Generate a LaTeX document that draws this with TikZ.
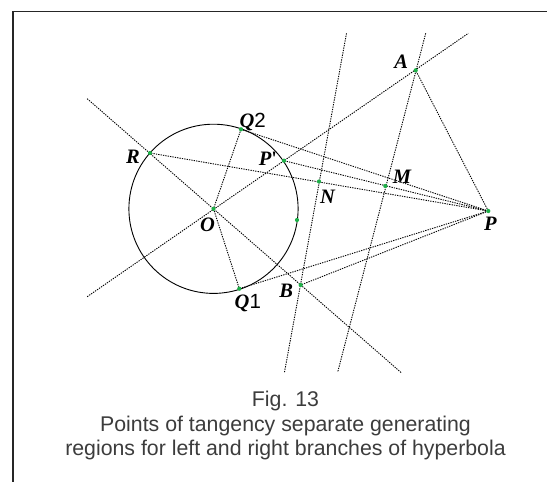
\documentclass[tikz,border=0pt]{standalone}
\usepackage{fontspec}
\usepackage{tikz}
\usetikzlibrary{positioning,calc}
\setmainfont{Liberation Sans}
\newfontfamily\lblfont{Liberation Serif}
\definecolor{ptgreen}{RGB}{30,176,72}
\definecolor{capgray}{RGB}{60,60,60}

\begin{document}
\begin{tikzpicture}[x=1pt,y=-1pt,
  aux/.style={dash pattern=on 1.3pt off 1.1pt,line width=0.9pt},
  gdot/.style={circle,fill=ptgreen,inner sep=0pt,minimum size=4.2pt},
  lbl/.style={inner sep=0pt,text height=13.5pt,text depth=0pt,font=\lblfont\fontsize{20.5}{22}\selectfont\bfseries\itshape},
  capt/.style={align=center,text=capgray,font=\fontsize{21.3}{24.3}\selectfont}
]
\useasboundingbox (0,0) rectangle (547,482);
% frame
\draw[line width=1.1pt,black!85] (13,482) -- (13,11.3) -- (547,11.3);
% points
\coordinate (O) at (213.5,208.8);
\coordinate (Q2) at (241,129.3);
\coordinate (Q1) at (239.3,288.7);
\coordinate (R) at (150,153);
\coordinate (Pp) at (284,160.7);
\coordinate (C) at (297,220);
\coordinate (P) at (488.3,211);
\coordinate (N) at (319,181.5);
\coordinate (M) at (385.3,186);
\coordinate (A) at (415.7,70.3);
\coordinate (B) at (300.7,285);
% free ends of the long lines
\coordinate (ro1) at (87.2,98.7);
\coordinate (ro2) at (401.3,372.7);
\coordinate (oa1) at (87.2,296.7);
\coordinate (oa2) at (468.3,33.3);
\coordinate (nb1) at (346.5,33.3);
\coordinate (nb2) at (284.4,372.7);
\coordinate (ma1) at (425.7,33.3);
\coordinate (ma2) at (337.8,371.7);
% circle
\draw[line width=0.9pt] (O) circle (84.6);
% construction lines
\draw[aux] (ro1) -- (ro2);
\draw[aux] (oa1) -- (oa2);
\draw[aux] (nb1) -- (nb2);
\draw[aux] (ma1) -- (ma2);
\draw[aux] (Q2) -- (O) -- (Q1);
\draw[aux] (P) -- (Q2);
\draw[aux] (P) -- (Pp);
\draw[aux] (P) -- (R);
\draw[aux] (P) -- (Q1);
\draw[aux] (P) -- (B);
\draw[aux] (P) -- (A);
% dots
\foreach \p in {O,Q2,Q1,R,Pp,C,P,N,M,A,B}
  \node[gdot] at (\p) {};
% labels
\node[lbl,above right=2pt and -1.7pt of Q2] (lQ2) {Q\textup{\fontspec{Liberation Sans}\mdseries 2}};
\node[lbl,below right=6.3pt and -4.8pt of Q1] (lQ1) {Q\textup{\fontspec{Liberation Sans}\mdseries 1}};
\node[lbl,left=10pt of R,yshift=-3.3pt] (lR) {R};
\node[lbl,left=6.7pt of Pp,yshift=1.5pt] (lPp) {P\textup{'}};
\node[lbl,below=9pt of O,xshift=-6pt] (lO) {O};
\node[lbl,below right=8.5pt and 1pt of N] (lN) {N};
\node[lbl,above right=2pt and 7.4pt of M] (lM) {M};
\node[lbl,above left=2pt and 7.4pt of A] (lA) {A};
\node[lbl,below=5.7pt of P,xshift=2pt] (lP) {P};
\node[lbl,left=7.4pt of B,yshift=-5.3pt] (lB) {B};
% caption
\node[capt,anchor=north] (cap) at (285.5,388) {Fig. 13\\Points of tangency separate generating\\regions for left and right branches of hyperbola};
\end{tikzpicture}
\end{document}
